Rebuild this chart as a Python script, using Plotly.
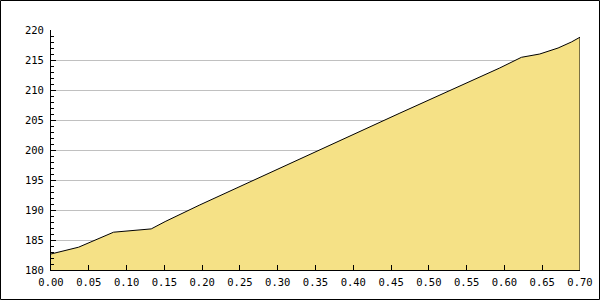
import plotly.graph_objects as go

distance = [0.0, 0.0365, 0.0828, 0.1004, 0.1247, 0.1326, 0.151, 0.197, 0.4617, 0.5938, 0.6225, 0.6467, 0.671, 0.6886, 0.70]
elevation = [182.67, 183.8, 186.3, 186.5, 186.73, 186.85, 188.07, 190.85, 206.15, 213.67, 215.45, 216.0, 217.0, 218.0, 218.8]

x_ticks = [0.0, 0.05, 0.10, 0.15, 0.20, 0.25, 0.30, 0.35, 0.40, 0.45, 0.50, 0.55, 0.60, 0.65, 0.70]
x_labels = ["%.2f" % v for v in x_ticks]
y_ticks = [180, 185, 190, 195, 200, 205, 210, 215, 220]
y_min, y_max = 180, 220

FONT = dict(family="DejaVu Sans Mono", size=10.5, color="black")

W, H = 600, 300
ML, MR, MT, MB = 51, 20, 30, 30
PW, PH = W - ML - MR, H - MT - MB

fig = go.Figure()
fig.add_trace(go.Scatter(
    x=distance, y=elevation, mode="lines",
    fill="tozeroy", fillcolor="#F5E186",
    line=dict(color="black", width=1),
    hoverinfo="skip",
))
# closing edge of the filled profile at the last point
fig.add_trace(go.Scatter(
    x=[distance[-1], distance[-1]], y=[elevation[-1], y_min], mode="lines",
    line=dict(color="black", width=1), hoverinfo="skip", cliponaxis=False,
))

fig.update_layout(
    width=W, height=H,
    margin=dict(l=ML, r=MR, t=MT, b=MB, autoexpand=False),
    paper_bgcolor="white", plot_bgcolor="white",
    showlegend=False,
    font=FONT,
    shapes=[dict(type="rect", xref="paper", yref="paper",
                 x0=(0.5 - ML) / PW, x1=(W - 0.5 - ML) / PW,
                 y0=-(H - 0.5 - (H - MB)) / PH, y1=(H - MB - 0.5) / PH,
                 line=dict(color="black", width=1), layer="above")],
)
fig.update_xaxes(
    range=[0, 0.70], tickvals=x_ticks, ticktext=x_labels,
    showline=True, linecolor="black", linewidth=1,
    ticks="inside", ticklen=5, tickcolor="black",
    showgrid=False, zeroline=False, tickfont=FONT, automargin=False,
)
fig.update_yaxes(
    range=[y_min, y_max], tickvals=y_ticks,
    showline=True, linecolor="black", linewidth=1,
    ticks="inside", ticklen=5, tickcolor="black",
    showgrid=True, gridcolor="#C0C0C0", gridwidth=1,
    zeroline=False, tickfont=FONT, automargin=False,
    minor=dict(dtick=1, ticks="inside", ticklen=3, tickcolor="black", showgrid=False),
)
fig.update_layout(yaxis_ticklabelstandoff=4, xaxis_ticklabelstandoff=2)

fig.write_html("out.html")
